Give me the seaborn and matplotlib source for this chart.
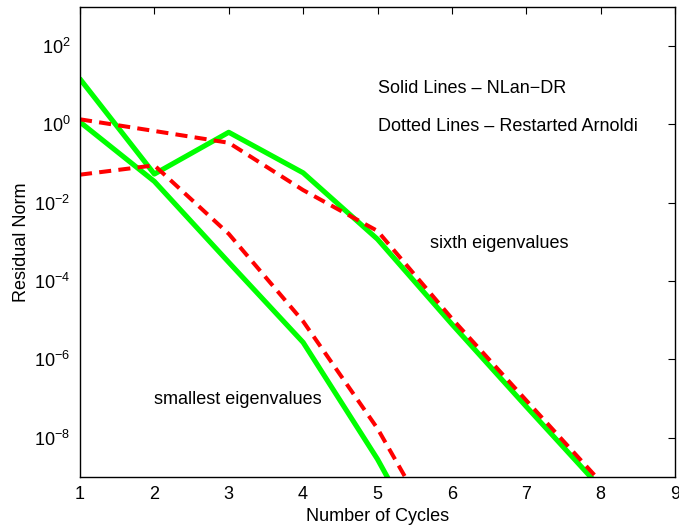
import matplotlib
matplotlib.use("Agg")
import matplotlib.pyplot as plt
import seaborn as sns
import pandas as pd
import numpy as np
from matplotlib.ticker import NullLocator

# ---- data ----
cycles_small = [1, 2, 3, 4, 5, 6]
small_nlan = [1.15, 0.035, 3.0e-4, 2.7e-6, 2.8e-9, 1.0e-12]
small_arnoldi = [0.052, 0.09, 1.6e-3, 9.3e-6, 1.7e-8, 8.0e-12]

cycles_sixth = [1, 2, 3, 4, 5, 6, 7, 8]
sixth_nlan = [14.5, 0.054, 0.63, 0.058, 1.17e-3, 7.9e-6, 6.2e-8, 5.2e-10]
sixth_arnoldi = [1.35, 0.68, 0.34, 0.021, 1.9e-3, 1.1e-5, 8.9e-8, 7.4e-10]

x_ticks = [1, 2, 3, 4, 5, 6, 7, 8, 9]
y_ticks = [1e-8, 1e-6, 1e-4, 1e-2, 1e0, 1e2]

sns.set_style("white")
plt.rcParams["font.family"] = ["Liberation Sans", "DejaVu Sans"]
plt.rcParams["mathtext.fontset"] = "custom"
plt.rcParams["mathtext.rm"] = "Liberation Sans"
plt.rcParams["mathtext.it"] = "Liberation Sans:italic"
plt.rcParams["mathtext.default"] = "regular"
for k in ("text.color", "axes.labelcolor", "xtick.color", "ytick.color"):
    plt.rcParams[k] = "black"

FS = 13

fig = plt.figure(figsize=(6.79, 5.27), dpi=100)
ax = fig.add_axes([80 / 679, 1 - 476.7 / 527, (675 - 80) / 679, (476.7 - 7) / 527])

green = (0.0, 1.0, 0.0)
red = (1.0, 0.0, 0.0)

df_sn = pd.DataFrame({"x": cycles_small, "y": small_nlan})
df_sa = pd.DataFrame({"x": cycles_small, "y": small_arnoldi})
df_xn = pd.DataFrame({"x": cycles_sixth, "y": sixth_nlan})
df_xa = pd.DataFrame({"x": cycles_sixth, "y": sixth_arnoldi})

for d in (df_sn, df_xn):
    sns.lineplot(data=d, x="x", y="y", ax=ax, color=green, lw=3.7,
                 estimator=None, sort=False)
for d in (df_sa, df_xa):
    sns.lineplot(data=d, x="x", y="y", ax=ax, color=red, lw=2.9,
                 estimator=None, sort=False)
for line in ax.get_lines()[2:]:
    line.set_dashes((3.0, 1.8))

ax.set_yscale("log")
ax.set_xlim(1, 9)
ax.set_ylim(1e-9, 1e3)
ax.set_xticks(x_ticks)
ax.set_yticks(y_ticks)
ax.yaxis.set_minor_locator(NullLocator())
ax.tick_params(axis="both", which="major", direction="in", length=5, width=0.8,
               top=True, right=True, labelsize=FS, colors="black", pad=7)
for s in ax.spines.values():
    s.set_color("black")
    s.set_linewidth(1.0)

ax.set_xlabel("Number of Cycles", fontsize=FS, labelpad=3)
ax.set_ylabel("Residual Norm", fontsize=FS, labelpad=3)

ax.text(5.0, 10 ** 0.93, "Solid Lines \u2013 NLan\u2212DR", fontsize=FS, va="center", ha="left")
ax.text(5.0, 10 ** -0.05, "Dotted Lines \u2013 Restarted Arnoldi", fontsize=FS, va="center", ha="left")
ax.text(5.7, 10 ** -3.04, "sixth eigenvalues", fontsize=FS, va="center", ha="left")
ax.text(2.0, 10 ** -7.03, "smallest eigenvalues", fontsize=FS, va="center", ha="left")

fig.savefig("out.png", dpi=100)
